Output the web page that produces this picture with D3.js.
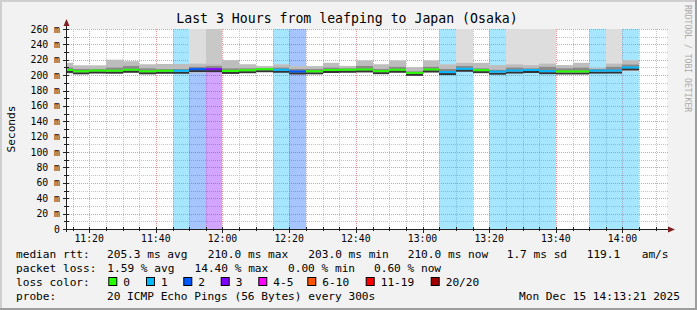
<!DOCTYPE html>
<html>
<head>
<meta charset="utf-8">
<script src="https://cdn.jsdelivr.net/npm/d3@7/dist/d3.min.js"></script>
<style>
  body { margin: 0; background: #f2f2f2; }
  svg text { font-family: "DejaVu Sans Mono", monospace; fill: #000; }
</style>
</head>
<body>
<div id="chart"></div>
<script>
// 5 minute bins, start time of each bin
var binStarts = ["11:10", "11:15", "11:20", "11:25", "11:30", "11:35", "11:40", "11:45", "11:50", "11:55",
                 "12:00", "12:05", "12:10", "12:15", "12:20", "12:25", "12:30", "12:35", "12:40", "12:45",
                 "12:50", "12:55", "13:00", "13:05", "13:10", "13:15", "13:20", "13:25", "13:30", "13:35",
                 "13:40", "13:45", "13:50", "13:55", "14:00"];
// median rtt (ms)
var medians = [206.8, 205.0, 206.0, 205.8, 207.0, 205.0, 205.7, 205.7, 207.8, 207.8,
               205.5, 206.4, 207.7, 207.0, 204.8, 205.0, 206.7, 207.0, 207.4, 205.2,
               207.0, 203.0, 207.4, 204.0, 208.3, 206.5, 204.5, 206.0, 206.7, 205.2,
               204.8, 204.8, 205.9, 206.0, 210.0];
// lost pings out of 20
var lossCounts = [0, 0, 0, 0, 0, 0, 0, 1, 2, 3,
                  0, 0, 0, 1, 2, 0, 0, 0, 0, 0,
                  0, 0, 0, 1, 1, 0, 1, 1, 1, 1,
                  0, 0, 1, 1, 1];
// smoke: outer range and inner range (ms)
var smokeMin = [201, 202, 203, 203, 203, 202, 203, 204, 203, 204,
                204, 204, 205, 205, 201, 203, 204, 204, 204, 203,
                204, 201, 203, 202, 205, 204, 203, 204, 204, 203,
                203, 203, 204, 204, 205];
var smokeLow = [204, 203.5, 204.5, 204.5, 205, 203, 204.5, 205, 205, 206,
                205, 205, 206.5, 206, 203, 204, 205, 205.5, 205, 204,
                205.5, 202, 205, 203, 206.5, 205, 204, 205, 205.5, 204,
                204, 204, 205, 205, 207];
var smokeHigh = [210, 208, 208, 210, 212, 209, 208, 208, 211, 212,
                 209, 209, 209, 210, 208, 208, 210, 209, 212, 208,
                 211, 205, 211, 208, 212, 209, 207, 210, 209, 211,
                 209, 210, 208, 211, 214];
var smokeMax = [216, 212.6, 212.6, 220, 218, 214, 214.5, 214.5, 215, 215,
                219.5, 214, 211.7, 214, 211.7, 211.7, 216, 212, 219, 214,
                219, 210.4, 219, 214, 216, 216, 213, 214, 213, 215,
                213, 216, 209.5, 215, 219.5];
// lost pings drawn as smoke up to the top: 0 none, 1 one pair, 2 two pairs
var topSmoke = [0, 0, 0, 0, 0, 0, 0, 0, 1, 2,
                0, 0, 0, 0, 0, 0, 0, 0, 0, 0,
                0, 0, 0, 0, 1, 0, 0, 1, 1, 1,
                0, 0, 0, 1, 0];

var lossLabels = ["0", "1", "2", "3", "4-5", "6-10", "11-19", "20/20"];
var lossColors = ["#26ff00", "#00b8ff", "#0059ff", "#7e00ff", "#ff00ff", "#ff5500", "#ff0000", "#a10000"];
var lossUpper = [0, 1, 2, 3, 5, 10, 19, 20];

var rttStats = ["205.3 ms avg", "210.0 ms max", "203.0 ms min", "210.0 ms now", "1.7 ms sd", "119.1", "am/s"];
var lossStats = ["1.59 % avg", "14.40 % max", "0.00 % min", "0.60 % now"];
var probeText = "20 ICMP Echo Pings (56 Bytes) every 300s";
var stampText = "Mon Dec 15 14:13:21 2025";
var titleText = "Last 3 Hours from leafping to Japan (Osaka)";

var W = 697, H = 310;
var parse = d3.timeParse("%Y-%m-%d %H:%M:%S");
var start = parse("2025-12-15 11:13:21"),
    end = parse("2025-12-15 14:13:21");

var x = d3.scaleTime().domain([start, end]).range([67, 667]);
var y = d3.scaleLinear().domain([0, 260]).range([229, 29]);

function lossIndex(n) {
  for (var i = 0; i < lossUpper.length; i++) {
    if (n <= lossUpper[i]) return i;
  }
  return lossUpper.length - 1;
}

var bins = binStarts.map(function (s, i) {
  var t0 = parse("2025-12-15 " + s + ":00");
  var t1 = d3.timeMinute.offset(t0, 5);
  return {
    x0: Math.max(67, Math.round(x(t0))),
    x1: Math.min(667, Math.round(x(t1))),
    median: medians[i], loss: lossCounts[i],
    min: smokeMin[i], low: smokeLow[i], high: smokeHigh[i], max: smokeMax[i],
    top: topSmoke[i]
  };
});

var svg = d3.select("#chart").append("svg")
    .attr("width", W)
    .attr("height", H);

// frame
svg.append("rect").attr("width", W).attr("height", H).attr("fill", "#f2f2f2");
svg.append("path").attr("d", "M0,1H" + W + "M1,0V" + H)
    .attr("stroke", "#cfcfcf").attr("stroke-width", 2);
svg.append("path").attr("d", "M0," + (H - 1) + "H" + W + "M" + (W - 1) + ",0V" + H)
    .attr("stroke", "#9e9e9e").attr("stroke-width", 2);

// canvas
svg.append("rect")
    .attr("x", 67).attr("y", 29)
    .attr("width", 600).attr("height", 200)
    .attr("fill", "#fff");

// grid
var grid = svg.append("g").attr("stroke-dasharray", "1,1").attr("stroke-width", 1);
var minorX = x.ticks(d3.timeMinute.every(5)),
    majorX = x.ticks(d3.timeMinute.every(20));
var minorY = y.ticks(26),
    majorY = y.ticks(13);

grid.selectAll("line.vmin").data(minorX.filter(function (d) { return d.getMinutes() % 20 !== 0; }))
  .enter().append("line")
    .attr("x1", function (d) { return Math.round(x(d)) + 0.5; })
    .attr("x2", function (d) { return Math.round(x(d)) + 0.5; })
    .attr("y1", 29).attr("y2", 229)
    .attr("stroke", "#c4c4c4");
grid.selectAll("line.hmin").data(minorY.filter(function (d) { return d % 20 !== 0; }))
  .enter().append("line")
    .attr("x1", 67).attr("x2", 668)
    .attr("y1", function (d) { return Math.round(y(d)) + 0.5; })
    .attr("y2", function (d) { return Math.round(y(d)) + 0.5; })
    .attr("stroke", "#c4c4c4");
grid.selectAll("line.vmaj").data(majorX)
  .enter().append("line")
    .attr("x1", function (d) { return Math.round(x(d)) + 0.5; })
    .attr("x2", function (d) { return Math.round(x(d)) + 0.5; })
    .attr("y1", 29).attr("y2", 229)
    .attr("stroke", "#eb9a9a");
grid.selectAll("line.hmaj").data(majorY.filter(function (d) { return d > 0; }))
  .enter().append("line")
    .attr("x1", 67).attr("x2", 668)
    .attr("y1", function (d) { return Math.round(y(d)) + 0.5; })
    .attr("y2", function (d) { return Math.round(y(d)) + 0.5; })
    .attr("stroke", "#eb9a9a");

// loss background
svg.append("g").selectAll("rect").data(bins.filter(function (b) { return b.loss > 0; }))
  .enter().append("rect")
    .attr("x", function (b) { return b.x0; })
    .attr("width", function (b) { return b.x1 - b.x0; })
    .attr("y", y(260)).attr("height", y(0) - y(260))
    .attr("fill", function (b) { return lossColors[lossIndex(b.loss)]; })
    .attr("fill-opacity", 0.35);

// smoke
var smoke = svg.append("g");
bins.forEach(function (b) {
  var top = b.top ? 260 : b.max;
  smoke.append("rect")
      .attr("x", b.x0).attr("width", b.x1 - b.x0)
      .attr("y", y(top)).attr("height", y(b.min) - y(top))
      .attr("fill", "#dddddd");
  if (b.top > 1) {
    smoke.append("rect")
        .attr("x", b.x0).attr("width", b.x1 - b.x0)
        .attr("y", y(260)).attr("height", y(b.max) - y(260))
        .attr("fill", "#c8c8c8");
  }
  smoke.append("rect")
      .attr("x", b.x0).attr("width", b.x1 - b.x0)
      .attr("y", y(b.max)).attr("height", y(b.high) - y(b.max))
      .attr("fill", "#bdbdbd");
  smoke.append("rect")
      .attr("x", b.x0).attr("width", b.x1 - b.x0)
      .attr("y", y(b.high)).attr("height", y(b.low) - y(b.high))
      .attr("fill", "#8a8a8a");
  smoke.append("rect")
      .attr("x", b.x0).attr("width", b.x1 - b.x0)
      .attr("y", y(b.median) + 1).attr("height", 2)
      .attr("fill", "#333");
});

// median line coloured by loss
svg.append("g").selectAll("rect").data(bins)
  .enter().append("rect")
    .attr("x", function (b) { return b.x0; })
    .attr("width", function (b) { return b.x1 - b.x0; })
    .attr("y", function (b) { return y(b.median) - 1; })
    .attr("height", 2)
    .attr("fill", function (b) { return lossColors[lossIndex(b.loss)]; });

// axes
var axis = svg.append("g");
axis.append("path")
    .attr("d", "M63,229.5H670M66.5,232V24")
    .attr("stroke", "#1f1f1f").attr("fill", "none");
axis.selectAll("line.xt").data(minorX)
  .enter().append("line")
    .attr("x1", function (d) { return Math.round(x(d)) + 0.5; })
    .attr("x2", function (d) { return Math.round(x(d)) + 0.5; })
    .attr("y1", 227).attr("y2", function (d) { return d.getMinutes() % 20 === 0 ? 233 : 231; })
    .attr("stroke", "#1f1f1f");
axis.selectAll("line.yt").data(minorY)
  .enter().append("line")
    .attr("x1", function (d) { return d % 20 === 0 ? 63 : 64; }).attr("x2", 69)
    .attr("y1", function (d) { return Math.round(y(d)) + 0.5; })
    .attr("y2", function (d) { return Math.round(y(d)) + 0.5; })
    .attr("stroke", "#1f1f1f");
axis.append("path").attr("d", "M63.5,26L66.5,19L69.5,26Z").attr("fill", "#801f1f");
axis.append("path").attr("d", "M668,226.5L675,229.5L668,232.5Z").attr("fill", "#801f1f");

// tick labels
var fmt = d3.timeFormat("%H:%M");
svg.append("g").selectAll("text").data(majorX)
  .enter().append("text")
    .attr("x", function (d) { return x(d); })
    .attr("y", 242)
    .attr("text-anchor", "middle")
    .style("font-size", "9.8px")
    .text(fmt);
svg.append("g").selectAll("text").data(majorY)
  .enter().append("text")
    .attr("x", 60)
    .attr("y", function (d) { return y(d) + 3.5; })
    .attr("text-anchor", "end")
    .style("font-size", "9.8px")
    .text(function (d) { return d === 0 ? "0" : d + " m"; });

// titles
svg.append("text")
    .attr("x", 347).attr("y", 22.5)
    .attr("text-anchor", "middle")
    .style("font-size", "13.2px")
    .text(titleText);
svg.append("text")
    .attr("transform", "translate(15,129) rotate(-90)")
    .attr("text-anchor", "middle")
    .style("font-size", "11.2px")
    .text("Seconds");
svg.append("text")
    .attr("transform", "translate(684.5,5) rotate(90)")
    .style("font-size", "8.1px")
    .style("fill", "#aaaaaa")
    .text("RRDTOOL / TOBI OETIKER");

// legend
var legend = svg.append("g").style("font-size", "11.15px");
var rows = [258, 272, 286, 300];
["median rtt:", "packet loss:", "loss color:", "probe:"].forEach(function (t, i) {
  legend.append("text").attr("x", 16).attr("y", rows[i]).text(t);
});
var rttX = [107, 207.7, 308.3, 407.7, 506.7, 586.7, 641.7];
rttStats.forEach(function (t, i) {
  legend.append("text").attr("x", rttX[i]).attr("y", rows[0]).text(t);
});
var lossX = [107.3, 194.5, 288, 374];
lossStats.forEach(function (t, i) {
  legend.append("text").attr("x", lossX[i]).attr("y", rows[1]).text(t);
});
var boxX = [108.3, 146, 183.3, 220.7, 258.3, 307.3, 365.7, 430.7];
lossLabels.forEach(function (t, i) {
  legend.append("rect")
      .attr("x", boxX[i] + 0.5).attr("y", 277.5)
      .attr("width", 8).attr("height", 8)
      .attr("fill", lossColors[i])
      .attr("stroke", "#000");
  legend.append("text").attr("x", boxX[i] + 15).attr("y", rows[2]).text(t);
});
legend.append("text").attr("x", 107).attr("y", rows[3]).text(probeText);
legend.append("text").attr("x", 680).attr("y", rows[3])
    .attr("text-anchor", "end").text(stampText);
</script>
</body>
</html>
